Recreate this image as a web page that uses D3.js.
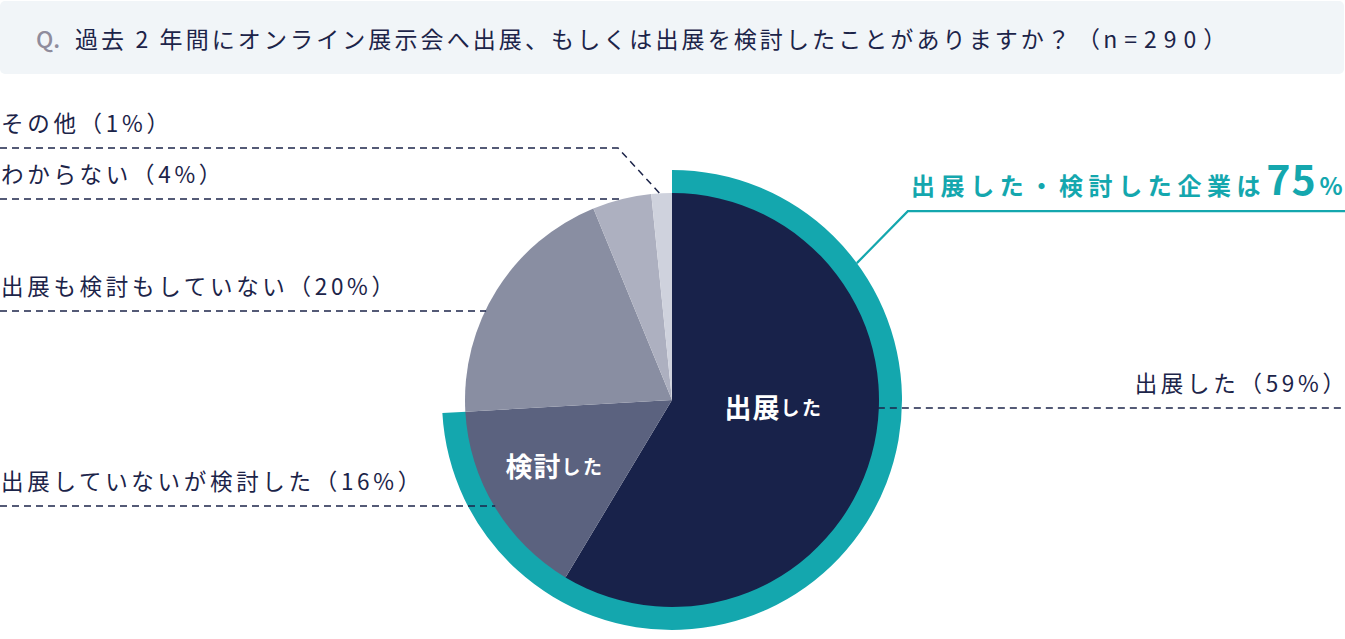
<!DOCTYPE html>
<html><head><meta charset="utf-8">
<script src="https://cdn.jsdelivr.net/npm/d3@7"></script>
<style>
html,body{margin:0;padding:0;background:#fff;}
svg{display:block;font-family:"Noto Sans CJK JP","Noto Sans",sans-serif;}
</style></head>
<body><svg id="c" width="1345" height="639"></svg>
<script>
// ---- data ----
const categories = ["出展した","出展していないが検討した","出展も検討もしていない","わからない","その他"];
const values = [58.6, 15.5, 19.7, 4.6, 1.6];           // shares
const pctLabels = ["59%","16%","20%","4%","1%"];       // printed percentages
const sliceColors = ["#18224a","#5b627f","#898ea2","#adb0c0","#cfd2dd"];
const innerLabels = [["出展","した"],["検討","した"]];
const titleText = "過去 2 年間にオンライン展示会へ出展、もしくは出展を検討したことがありますか？";
const titleN = ["（","n=290","）"];
const calloutText = ["出展した・検討した企業は","75","%"];

// ---- layout ----
const W = 1345, H = 639;
const cx = 672, cy = 400, R = 207, RingOuter = 230;
const teal = "#14a7ae", ink = "#1c2449";
const svg = d3.select("#c");

// title box
svg.append("rect").attr("x",0).attr("y",1).attr("width",1344).attr("height",73)
  .attr("rx",5).attr("fill","#f1f5f8");
svg.append("text").attr("x",36).attr("y",38).attr("dominant-baseline","central")
  .attr("font-size",23).attr("fill","#8f8c9c").attr("font-weight",500).text("Q.");
const tt = svg.append("text").attr("x",75).attr("y",38).attr("dominant-baseline","central")
  .attr("font-size",23).attr("fill",ink).attr("letter-spacing",3.1)
  .attr("xml:space","preserve").style("white-space","pre");
tt.append("tspan").text(titleText);
tt.append("tspan").attr("dx",4).text(titleN[0]);
tt.append("tspan").attr("letter-spacing",7).text(titleN[1]);
tt.append("tspan").text(titleN[2]);

const pie = d3.pie().sort(null).value(d=>d)(values);
const arc = d3.arc().innerRadius(0).outerRadius(R);
const g = svg.append("g").attr("transform",`translate(${cx},${cy})`);

// teal highlight ring over first two categories
const ringEnd = pie[1].endAngle;
g.append("path").attr("d", d3.arc().innerRadius(R-1).outerRadius(RingOuter)
  .startAngle(0).endAngle(ringEnd)()).attr("fill",teal);

g.selectAll("path.slice").data(pie).join("path").attr("class","slice")
  .attr("d",arc).attr("fill",(d,i)=>sliceColors[i]);

// leader lines
const edgeX = (y, side) => cx + side*Math.sqrt(R*R - (y-cy)*(y-cy));
const leaders = [
  {i:4, y:148, side:-1, elbow:618},
  {i:3, y:199, side:-1},
  {i:2, y:311, side:-1},
  {i:1, y:506, side:-1},
  {i:0, y:408, side:1}
];
const lg = svg.append("g").attr("fill","none").attr("stroke",ink)
  .attr("stroke-width",1.5).attr("stroke-dasharray","7,5");
leaders.forEach(L=>{
  let pts;
  if (L.elbow) {
    const a = (pie[L.i].startAngle + pie[L.i].endAngle)/2;
    pts = [[0,L.y],[L.elbow,L.y],[cx + R*Math.sin(a) - 2, cy - R*Math.cos(a)]];
  } else if (L.side<0) {
    pts = [[0,L.y],[edgeX(L.y,-1)+1,L.y]];
  } else {
    pts = [[edgeX(L.y,1)-1,L.y],[W,L.y]];
  }
  lg.append("path").attr("d", d3.line()(pts));
  const t = svg.append("text").attr("x", L.side<0 ? 1 : 1345).attr("y", L.y-26)
    .attr("dominant-baseline","central").attr("text-anchor", L.side<0?"start":"end")
    .attr("font-size",22.5).attr("fill",ink);
  t.append("tspan").attr("letter-spacing",3.7).text(`${categories[L.i]}（${pctLabels[L.i]}`);
  t.append("tspan").attr("letter-spacing",0).text("）");
});

// inner labels
const innerPos = [[102,6],[-117,65]];
innerLabels.forEach((t,i)=>{
  const tx = g.append("text").attr("x",innerPos[i][0]).attr("y",innerPos[i][1])
    .attr("text-anchor","middle").attr("dominant-baseline","central")
    .attr("fill","#fff").attr("font-weight",700);
  tx.append("tspan").attr("font-size",27).attr("letter-spacing",1).text(t[0]);
  tx.append("tspan").attr("font-size",19).attr("letter-spacing",2.5).text(t[1]);
});

// callout
const ca = Math.atan2(185,137);
const p0 = [cx + RingOuter*Math.sin(ca), cy - RingOuter*Math.cos(ca)];
const knee = [p0[0]+51, p0[1]-52];
svg.append("path").attr("d", d3.line()([p0, knee, [W, knee[1]]]))
  .attr("fill","none").attr("stroke",teal).attr("stroke-width",2.2);
const ct = svg.append("text").attr("x",911).attr("y",195).attr("fill",teal).attr("font-weight",700);
ct.append("tspan").attr("font-size",24).attr("letter-spacing",5.6).text(calloutText[0]);
ct.append("tspan").attr("font-size",41).attr("letter-spacing",1).attr("dx",0).text(calloutText[1]);
ct.append("tspan").attr("font-size",24).attr("dx",3).text(calloutText[2]);
</script></body></html>
